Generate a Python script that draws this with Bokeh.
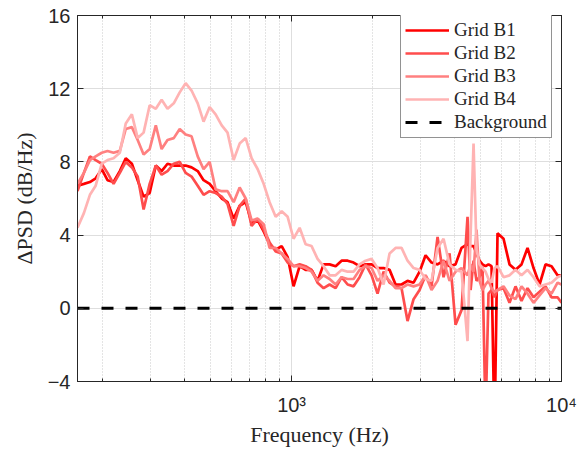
from bokeh.plotting import figure
from bokeh.models import FixedTicker, LogAxis, LinearAxis, Legend, LegendItem
from bokeh.embed import file_html
from bokeh.resources import INLINE

# ---------------- data ----------------
freq = [161, 170, 179, 188, 198, 208, 219, 231, 243, 256, 269, 283, 298, 314, 330, 347,
        366, 385, 405, 426, 449, 472, 497, 523, 551, 579, 610, 642, 676, 711, 749, 788,
        829, 873, 919, 967, 1017, 1071, 1127, 1186, 1248, 1314, 1383, 1456, 1532, 1613,
        1697, 1786, 1880, 1979, 2082, 2192, 2307, 2428, 2555, 2689, 2831, 2980, 3136,
        3300, 3474, 3656, 3848, 4050, 4262, 4486, 4604, 4722, 4844, 4970, 5097, 5231,
        5365, 5506, 5647, 5794, 6099, 6419, 6756, 7111, 7485, 7878, 8292, 8727, 9186,
        9668, 10000]

grid_b1 = [6.7, 6.8, 6.9, 7.1, 7.6, 7.0, 6.9, 7.5, 8.2, 7.9, 7.0, 6.1, 6.3, 7.8, 7.5, 7.9, 7.8, 7.8, 7.8, 7.7, 7.5, 7.0,
           6.8, 6.4, 6.0, 5.8, 4.9, 5.6, 5.8, 4.7, 4.8, 4.2, 3.5, 3.2, 3.4, 2.8, 1.2, 2.3, 2.1, 2.1, 1.5, 2.4,
           2.4, 2.3, 2.6, 2.6, 2.5, 2.3, 2.4, 2.4, 2.2, 2.2, 2.1, 1.3, 1.3, 1.5, 1.4, 2.0,
           2.9, 2.5, 2.4, 2.6, 2.3, 2.4, 3.3, 3.5,
           3.4, 3.4, 3.0, 2.6, 2.4, 2.3, 2.4, 2.3, -7.0, 4.1,
           3.8, 2.4, 2.1, 2.4, 3.3, 2.2, 1.3, 2.4, 2.3, 1.8, 1.8]

grid_b2 = [6.4, 7.4, 8.3, 8.1, 7.9, 7.4, 6.8, 7.4, 8.0, 7.7, 7.2, 5.4, 6.8, 7.8, 7.3, 7.5, 7.9, 8.0, 7.4, 7.2, 6.7, 6.2,
           6.4, 6.3, 6.1, 5.7, 4.5, 5.6, 6.0, 4.5, 4.9, 4.3, 3.6, 3.1, 3.0, 2.5, 2.3, 2.4, 2.3, 2.1, 1.4, 1.1,
           1.3, 1.1, 1.7, 1.3, 1.2, 1.7, 2.4, 1.8, 0.8, 2.0, 1.4, 1.2, 1.1, -0.7, 0.5, 1.0,
           1.8, 1.2, 3.9, 1.7, 3.0, -0.9, -0.1, 5.0,
           1.0, 2.6, 1.5, 1.7, 2.3, -6.0, 0.8, 1.0, 0.6, 1.0,
           1.1, 0.3, 1.2, 0.4, 1.1, 0.6, 0.9, 1.2, 0.6, 0.6, 0.3]

grid_b3 = [6.8, 7.4, 8.1, 8.3, 8.5, 8.6, 8.5, 8.6, 9.8, 9.9, 9.2, 8.4, 8.7, 10.0, 8.7, 9.2, 9.3, 9.8, 9.5, 9.4, 8.3, 7.6,
           8.0, 6.5, 6.4, 6.4, 5.8, 6.6, 6.0, 4.8, 4.9, 4.6, 3.3, 3.3, 3.0, 2.7, 2.3, 2.3, 2.2, 2.0, 1.5, 1.8,
           1.6, 1.3, 1.7, 1.6, 1.6, 2.1, 2.3, 2.2, 1.5, 1.8, 1.5, 1.1, 1.1, 1.3, 1.2, 1.3,
           1.8, 1.0, 1.5, 2.6, 1.5, 2.0, 2.2, 1.8,
           2.4, 2.0, 4.3, 1.5, 1.0, 1.3, 1.5, 1.1, 0.9, 1.0,
           1.2, 0.7, 0.5, 1.2, 0.8, 0.3, 0.7, 1.1, 0.8, 1.4, 1.3]

grid_b4 = [4.4, 5.2, 6.2, 6.7, 7.9, 8.1, 8.2, 8.5, 10.1, 10.6, 9.3, 9.6, 11.1, 10.9, 11.4, 10.9, 11.2, 11.8, 12.3, 11.9, 11.2, 10.2,
           11.0, 10.6, 10.0, 9.6, 8.1, 9.0, 9.3, 8.2, 7.6, 6.8, 5.8, 5.0, 5.3, 5.0, 3.8, 4.4, 3.5, 3.4, 2.7, 2.3,
           1.8, 1.8, 2.1, 2.0, 2.0, 2.4, 2.6, 2.7, 2.2, 1.3, 3.0, 3.3, 3.3, 2.6, 2.2, 2.1,
           1.6, 1.5, 3.3, 3.8, 2.4, 2.1, 2.0, -1.8,
           4.0, 9.0, 3.2, 2.4, 2.2, 2.0, 1.6, 1.4, 2.2, 2.3,
           1.7, 1.8, 2.1, 1.8, 2.1, 1.7, 1.2, 1.3, 1.4, 1.7, 1.8]

background_freq = [161, 10000]
background_level = [0, 0]

series_names = ["Grid B1", "Grid B2", "Grid B3", "Grid B4"]
series_colors = ["#ff0000", "#ff4d4d", "#ff8080", "#ffb3b3"]

x_major = [1000, 10000]
x_minor = [200, 300, 400, 500, 600, 700, 800, 900,
           2000, 3000, 4000, 5000, 6000, 7000, 8000, 9000]
y_ticks = [-4, 0, 4, 8, 12, 16]
x_labels = {1000: "10\u00b3", 10000: "10\u2074"}

AX = "#262626"
SANS = "Liberation Sans"
SERIF = "Liberation Serif"

# ---------------- figure ----------------
p = figure(width=577, height=450, x_axis_type="log", x_range=(161, 10000), y_range=(-4, 16),
           output_backend="svg", toolbar_location=None,
           min_border_left=77, min_border_right=16, min_border_top=15, min_border_bottom=69,
           background_fill_color="white", border_fill_color="white")
p.outline_line_color = AX
p.outline_line_width = 1

# axes
p.xaxis.ticker = FixedTicker(ticks=x_major, minor_ticks=x_minor)
p.xaxis.major_label_overrides = x_labels
p.yaxis.ticker = FixedTicker(ticks=y_ticks, minor_ticks=[])
for ax in (p.xaxis[0], p.yaxis[0]):
    ax.axis_line_color = AX
    ax.major_tick_line_color = AX
    ax.minor_tick_line_color = AX
    ax.major_tick_in = 6
    ax.major_tick_out = 0
    ax.minor_tick_in = 3
    ax.minor_tick_out = 0
    ax.major_label_text_font = SANS
    ax.major_label_text_font_size = "20px"
    ax.major_label_text_color = AX
    ax.axis_label_text_font = SERIF
    ax.axis_label_text_font_size = "22px"
    ax.axis_label_text_font_style = "normal"
    ax.axis_label_text_color = AX
p.xaxis.axis_label = "Frequency (Hz)"
p.yaxis.axis_label = "\u0394PSD (dB/Hz)"
p.xaxis.major_label_standoff = 12
p.xaxis.axis_label_standoff = 3
p.yaxis.major_label_standoff = 7
p.yaxis.axis_label_standoff = 8

top = LogAxis(ticker=FixedTicker(ticks=x_major, minor_ticks=x_minor),
              major_label_text_font_size="1px", major_label_text_alpha=0, major_label_standoff=0,
              major_tick_in=6, major_tick_out=0, minor_tick_in=3, minor_tick_out=0,
              axis_line_color=AX, major_tick_line_color=AX, minor_tick_line_color=AX)
p.add_layout(top, "above")
right = LinearAxis(ticker=FixedTicker(ticks=y_ticks, minor_ticks=[]),
                   major_label_text_font_size="1px", major_label_text_alpha=0, major_label_standoff=0,
                   major_tick_in=6, major_tick_out=0,
                   axis_line_color=AX, major_tick_line_color=AX)
p.add_layout(right, "right")

# grids
p.xgrid.grid_line_color = "#dedede"
p.xgrid.minor_grid_line_color = "#c8c8c8"
p.xgrid.minor_grid_line_dash = "1 2"
p.ygrid.grid_line_color = "#dedede"

# lines
items = []
for name, col, vals in zip(series_names, series_colors, [grid_b1, grid_b2, grid_b3, grid_b4]):
    r = p.line(freq, vals, line_color=col, line_width=2.7)
    items.append(LegendItem(label=name, renderers=[r]))
rb = p.line(background_freq, background_level, line_color="black", line_width=3, line_dash="12 12")
items.append(LegendItem(label="Background", renderers=[rb]))

legend = Legend(items=items, location=(323, 243), padding=4, spacing=1, margin=0,
                glyph_width=44, glyph_height=20, label_height=20, label_standoff=5,
                label_text_font=SERIF, label_text_font_size="19px", label_text_color=AX,
                border_line_color=AX, border_line_width=1, background_fill_alpha=1)
p.add_layout(legend)

open("out.html", "w").write(file_html(p, INLINE))
